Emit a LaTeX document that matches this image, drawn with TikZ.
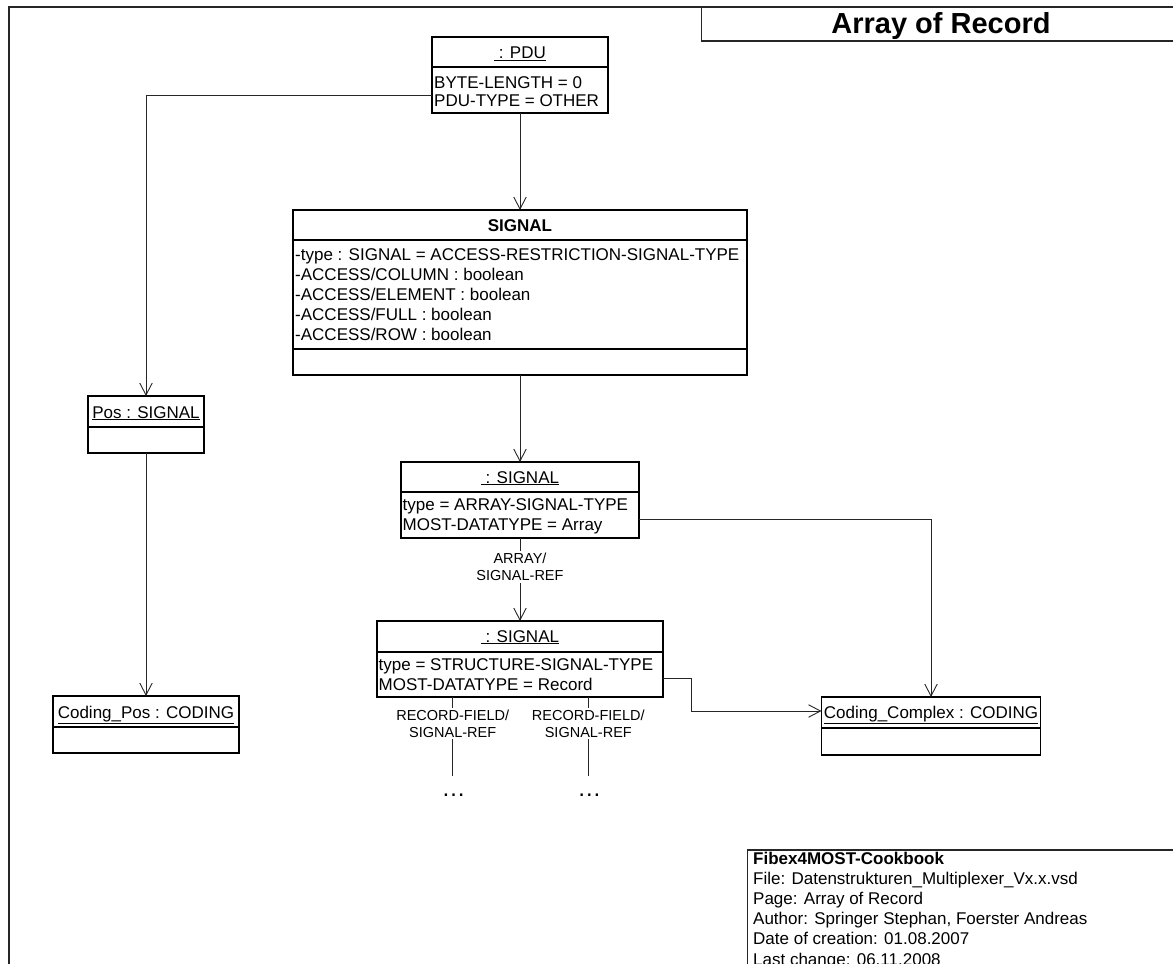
\documentclass[tikz,border=0pt]{standalone}
\usepackage{fontspec}
\setmainfont{Liberation Sans}
\usetikzlibrary{arrows.meta,calc}
\newcommand\umlfont{\fontsize{17}{20}\selectfont}
\newcommand\lblfont{\fontsize{14.5}{17.5}\selectfont}
\begin{document}
\begin{tikzpicture}[x=1pt,y=-1pt,
  objbox/.style={draw=black,line width=1.2pt,inner sep=0pt,outer sep=0pt},
  sepline/.style={draw=black,line width=1.2pt},
  frameline/.style={draw=black!85,line width=1.8pt},
  conn/.style={draw=black!85,line width=0.9pt},
  arr/.style={conn,-{Straight Barb[length=12pt,width=12.5pt,line width=0.9pt]}},
  hdr/.style={anchor=base,inner sep=0pt,font=\umlfont},
  row/.style={anchor=base west,inner sep=0pt,font=\umlfont},
  lbl/.style={fill=white,inner sep=1.5pt,font=\lblfont,align=center},
  info/.style={anchor=base west,inner sep=0pt,font=\umlfont}]
\useasboundingbox (0,0) rectangle (1173,964);
\clip (0,0) rectangle (1173,964);

% page frame, title field and info field
\draw[frameline] (9,980) -- (9,6.7) -- (1190,6.7);
\draw[frameline,line width=1.3pt] (701.7,6.7) -- (701.7,41) -- (1190,41);
\draw[frameline,line width=1.3pt] (747.3,980) -- (747.3,850) -- (1190,850);
\node (title) [anchor=base,inner sep=0pt,font=\fontsize{29}{34}\selectfont\bfseries] at (941,33.5) {Array of Record};

\node (i1) [info,font=\umlfont\bfseries] at (753,864) {Fibex4MOST-Cookbook};
\node (i2) [info] at (753,884.2) {File: Datenstrukturen\_Multiplexer\_Vx.x.vsd};
\node (i3) [info] at (753,904.4) {Page: Array of Record};
\node (i4) [info] at (753,924.6) {Author: Springer Stephan, Foerster Andreas};
\node (i5) [info] at (753,944.8) {Date of creation: 01.08.2007};
\node (i6) [info] at (753,965) {Last change: 06.11.2008};

% object boxes
\node (pdu) [objbox,minimum width=176pt,minimum height=76pt] at (520,75) {};
\draw[sepline] ([yshift=-30pt]pdu.north west) -- ([yshift=-30pt]pdu.north east);
\node (pduh) [hdr] at (520,58.3) {\underline{\ : PDU}};
\node (pdu1) [row] at (434,88.3) {BYTE-LENGTH = 0};
\node (pdu2) [row] at (434,106.7) {PDU-TYPE = OTHER};

\node (sig) [objbox,minimum width=454pt,minimum height=165pt] at (520,292.5) {};
\draw[sepline] ([yshift=-30pt]sig.north west) -- ([yshift=-30pt]sig.north east);
\draw[sepline] ([yshift=26pt]sig.south west) -- ([yshift=26pt]sig.south east);
\node (sigh) [hdr,font=\umlfont\bfseries] at (520,231.5) {SIGNAL};
\node (sig1) [row] at (295,260) {-type : SIGNAL = ACCESS-RESTRICTION-SIGNAL-TYPE};
\node (sig2) [row] at (295,280) {-ACCESS/COLUMN : boolean};
\node (sig3) [row] at (295,300) {-ACCESS/ELEMENT : boolean};
\node (sig4) [row] at (295,320) {-ACCESS/FULL : boolean};
\node (sig5) [row] at (295,340) {-ACCESS/ROW : boolean};

\node (pos) [objbox,minimum width=116pt,minimum height=57pt] at (146,424.5) {};
\draw[sepline] ([yshift=-31pt]pos.north west) -- ([yshift=-31pt]pos.north east);
\node (posh) [hdr] at (146,418) {\underline{Pos : SIGNAL}};

\node (arr) [objbox,minimum width=238pt,minimum height=76pt] at (520,500) {};
\draw[sepline] ([yshift=-30pt]arr.north west) -- ([yshift=-30pt]arr.north east);
\node (arrh) [hdr] at (520,483) {\underline{\ : SIGNAL}};
\node (arr1) [row] at (402.5,510) {type = ARRAY-SIGNAL-TYPE};
\node (arr2) [row] at (402.5,530) {MOST-DATATYPE = Array};

\node (str) [objbox,minimum width=286pt,minimum height=76pt] at (520,659) {};
\draw[sepline] ([yshift=-31pt]str.north west) -- ([yshift=-31pt]str.north east);
\node (strh) [hdr] at (520,642) {\underline{\ : SIGNAL}};
\node (str1) [row] at (378.5,670) {type = STRUCTURE-SIGNAL-TYPE};
\node (str2) [row] at (378.5,690) {MOST-DATATYPE = Record};

\node (cpos) [objbox,minimum width=186pt,minimum height=57pt] at (146,724.5) {};
\draw[sepline] ([yshift=-31pt]cpos.north west) -- ([yshift=-31pt]cpos.north east);
\node (cposh) [hdr] at (146,718) {\underline{Coding\_Pos : CODING}};

\node (cc) [objbox,minimum width=219pt,minimum height=58pt] at (931,726) {};
\draw[sepline] ([yshift=-31pt]cc.north west) -- ([yshift=-31pt]cc.north east);
\node (cch) [hdr] at (931,718) {\underline{Coding\_Complex : CODING}};

% associations
\draw[arr] ([yshift=-20pt]pdu.west) -| (pos.north);
\draw[arr] (pdu.south) -- (sig.north);
\draw[arr] (sig.south) -- (arr.north);
\draw[arr] (pos.south) -- (cpos.north);
\draw[arr] (arr.south) -- node[lbl,pos=0.35] (lref) {ARRAY/\\SIGNAL-REF} (str.north);
\draw[arr] ([yshift=-19pt]arr.east) -| (cc.north);
\draw[arr] ([yshift=-19pt]str.east) -- ++(28,0) |- ([yshift=15pt]cc.west);

% open record-field references
\coordinate (e1) at (452.7,776);
\coordinate (e2) at (588.3,776);
\draw[conn] (str.south -| e1) -- node[lbl,pos=0.34] (lf1) {RECORD-FIELD/\\SIGNAL-REF} (e1);
\draw[conn] (str.south -| e2) -- node[lbl,pos=0.34] (lf2) {RECORD-FIELD/\\SIGNAL-REF} (e2);
\node (d1) [anchor=base,inner sep=0pt,font=\fontsize{24}{24}\selectfont] at ($(e1)+(1,20)$) {…};
\node (d2) [anchor=base,inner sep=0pt,font=\fontsize{24}{24}\selectfont] at ($(e2)+(1,20)$) {…};
\end{tikzpicture}
\end{document}
